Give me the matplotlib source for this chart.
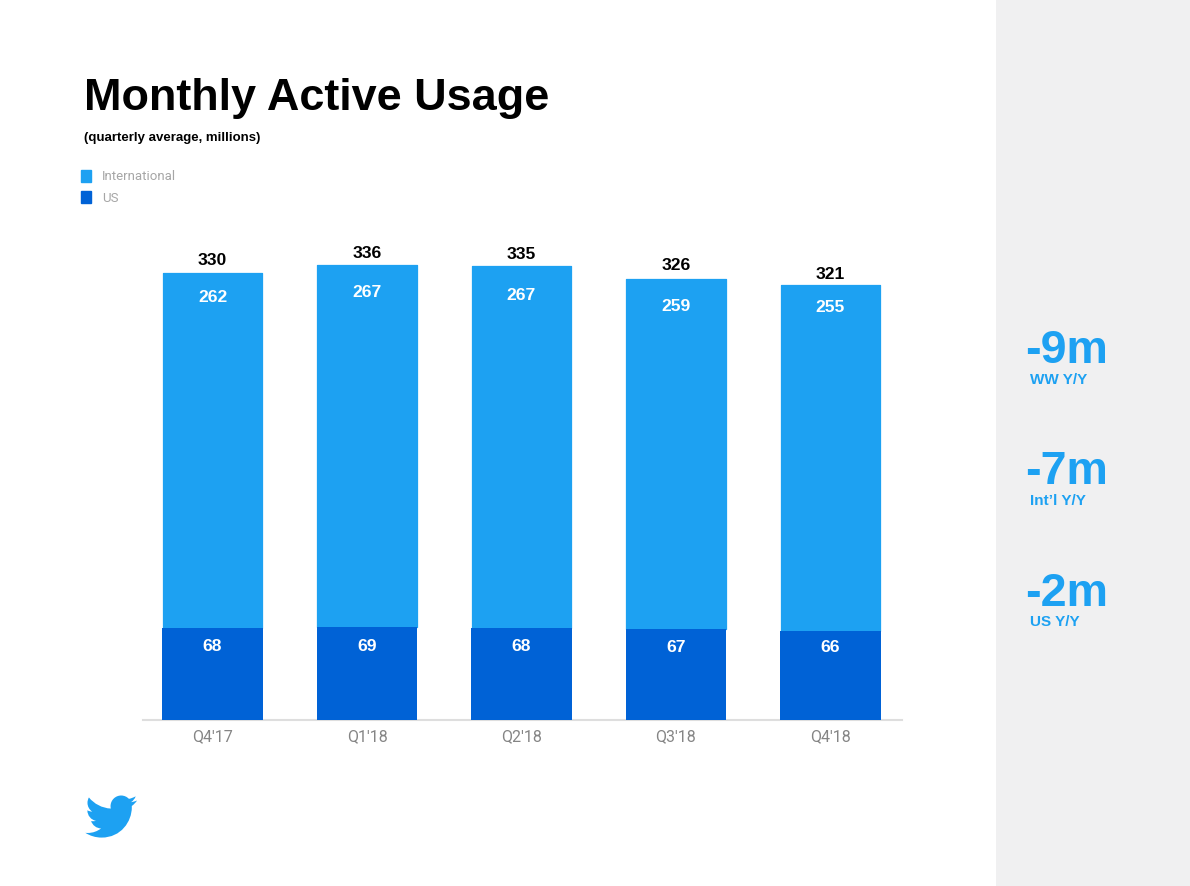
import re
import numpy as np
import matplotlib
matplotlib.use("Agg")
import matplotlib.pyplot as plt
from matplotlib.patches import Patch, PathPatch, Rectangle
from matplotlib.path import Path

quarters = ["Q4'17", "Q1'18", "Q2'18", "Q3'18", "Q4'18"]
international = [262, 267, 267, 259, 255]
us = [68, 69, 68, 67, 66]
totals = [330, 336, 335, 326, 321]
stat_values = ["-9m", "-7m", "-2m"]
stat_labels = ["WW Y/Y", "Int\u2019l Y/Y", "US Y/Y"]

W, H = 1190, 886
LIGHT, DARK = "#1DA1F2", "#0062D6"
BIRD = ("M23.643 4.937c-.835.37-1.732.62-2.675.733.962-.576 1.7-1.49 2.048-2.578-.9.534-1.897.922-2.958 1.13"
        "-.85-.904-2.06-1.47-3.4-1.47-2.572 0-4.658 2.086-4.658 4.66 0 .364.042.718.12 1.06"
        "-3.873-.195-7.304-2.05-9.602-4.868-.4.69-.63 1.49-.63 2.342 0 1.616.823 3.043 2.072 3.878"
        "-.764-.025-1.482-.234-2.11-.583v.06c0 2.257 1.605 4.14 3.737 4.568-.392.106-.803.162-1.227.162"
        "-.3 0-.593-.028-.877-.082.593 1.85 2.313 3.198 4.352 3.234-1.595 1.25-3.604 1.995-5.786 1.995"
        "-.376 0-.747-.022-1.112-.065 2.062 1.323 4.51 2.093 7.14 2.093 8.57 0 13.255-7.098 13.255-13.254"
        " 0-.2-.005-.402-.014-.602.91-.658 1.7-1.477 2.323-2.41z")


def fx(x):
    return x / W


def fy(y):
    return 1 - y / H


def bird_path(x0, y0, s):
    nums = r"-?\d*\.?\d+"
    verts, codes = [], []
    cur = np.zeros(2)
    for cmd, args in re.findall(r"([MmcvzZ])([^MmcvzZ]*)", BIRD):
        a = [float(v) for v in re.findall(nums, args)]
        if cmd == "M":
            cur = np.array(a[:2])
            verts.append(cur.copy()); codes.append(Path.MOVETO)
        elif cmd == "c":
            for i in range(0, len(a), 6):
                for j in (0, 2, 4):
                    verts.append(cur + a[i + j:i + j + 2]); codes.append(Path.CURVE4)
                cur = cur + a[i + 4:i + 6]
        elif cmd == "v":
            cur = cur + [0, a[0]]
            verts.append(cur.copy()); codes.append(Path.LINETO)
        else:
            verts.append(verts[0]); codes.append(Path.CLOSEPOLY)
    v = np.array(verts)
    px = x0 + (v[:, 0] - 0.36) * s
    py = y0 + (v[:, 1] - 2.75) * s
    return Path(np.column_stack([fx(px), fy(py)]), codes)


fig = plt.figure(figsize=(W / 100, H / 100), dpi=100, facecolor="white")
fig.add_artist(Rectangle((fx(996), 0), 1 - fx(996), 1, transform=fig.transFigure,
                         facecolor="#F0F0F1", edgecolor="none", zorder=-5))

ax = fig.add_axes([fx(143), fy(720), (902 - 143) / W, (720 - 240) / H])
ax.set_xlim(-0.45, 4.463)
ax.set_ylim(0, 480 / 1.354)
x = np.arange(len(quarters))
ax.bar(x, international, bottom=us, width=0.642, color=LIGHT, edgecolor=LIGHT, linewidth=0.9,
       joinstyle="round", zorder=2)
ax.bar(x, us, width=0.652, color=DARK, linewidth=0, zorder=3)

ax.set_xticks(x, quarters, fontfamily="Roboto", fontsize=11.5, color="#858585")
ax.tick_params(axis="x", length=0, pad=6.8)
ax.set_yticks([])
for side in ("top", "left", "right"):
    ax.spines[side].set_visible(False)
ax.spines["bottom"].set_color("#DEDEDE")
ax.spines["bottom"].set_linewidth(1.5)

label_font = dict(family="Liberation Sans", fontweight="bold", ha="center", va="center")
total_gap = [13, 12, 12, 13, 11]
intl_gap = [24, 27, 29, 28, 22]
us_gap = [19, 20, 19, 18, 17]
for i in x:
    top = totals[i]
    ax.annotate(str(totals[i]), (i, top), xytext=(0, total_gap[i] * 0.72), textcoords="offset points",
                fontsize=12.6, color="black", zorder=5, **label_font)
    ax.annotate(str(international[i]), (i, top), xytext=(0, -intl_gap[i] * 0.72), textcoords="offset points",
                fontsize=12.6, color="white", zorder=5, **label_font)
    ax.annotate(str(us[i]), (i, us[i]), xytext=(0, -us_gap[i] * 0.72), textcoords="offset points",
                fontsize=12.6, color="white", zorder=5, **label_font)

fig.text(fx(84), fy(98.5), "Monthly Active Usage", family="Liberation Sans", fontweight="bold",
         fontsize=32.4, color="black", ha="left", va="center")
fig.text(fx(84), fy(137.5), "(quarterly average, millions)", family="Liberation Sans", fontweight="bold",
         fontsize=9.5, color="black", ha="left", va="center")

fs = 9.5
pxu = fs * 100 / 72
fig.legend(handles=[Patch(color=LIGHT, label="International"), Patch(color=DARK, label="US")],
           loc="upper left", bbox_to_anchor=(fx(81), fy(170)), borderaxespad=0, borderpad=0,
           frameon=False, labelcolor="#A6A6A6",
           prop={"family": "Roboto", "size": fs},
           handlelength=10 / pxu, handleheight=13 / pxu, handletextpad=11 / pxu, labelspacing=8 / pxu)

for k, (val, lab) in enumerate(zip(stat_values, stat_labels)):
    y = 351 + k * 121.5
    fig.text(fx(1025.5), fy(y), val, family="Liberation Sans", fontweight="bold", fontsize=33.6,
             color=LIGHT, ha="left", va="center")
    fig.text(fx(1030), fy(y + 28.5), lab, family="Liberation Sans", fontweight="bold", fontsize=11,
             color=LIGHT, ha="left", va="center")

fig.add_artist(PathPatch(bird_path(84, 795.5, 2.28), transform=fig.transFigure,
                         facecolor=LIGHT, edgecolor="none"))

fig.savefig("out.png", dpi=100)
